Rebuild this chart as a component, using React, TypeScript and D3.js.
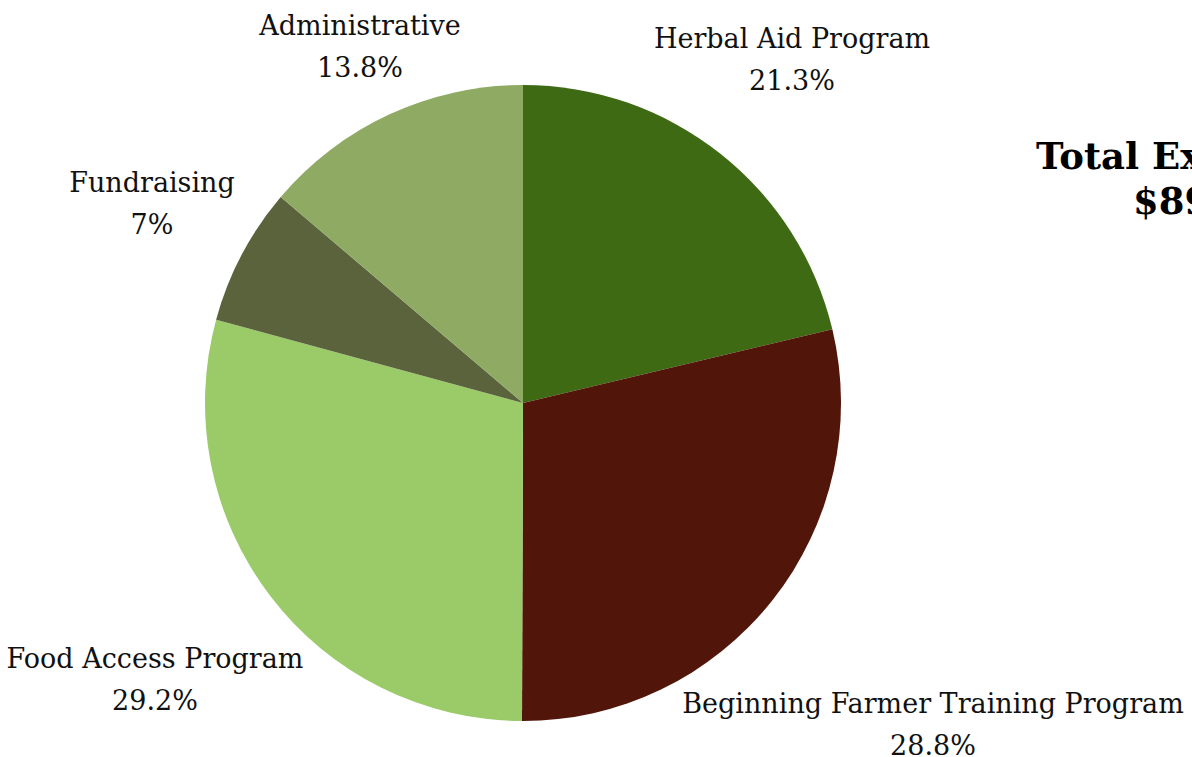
import React from "react";
import * as d3 from "d3";

const categories = [
  "Herbal Aid Program",
  "Beginning Farmer Training Program",
  "Food Access Program",
  "Fundraising",
  "Administrative",
];
const values = [21.3, 28.8, 29.2, 7, 13.8];
const valueLabels = ["21.3%", "28.8%", "29.2%", "7%", "13.8%"];
const colors = ["#3f6a14", "#52150a", "#9acb68", "#5b633d", "#8eaa63"];
const labelPos: [number, number][] = [
  [792, 38],
  [933, 703],
  [155, 658],
  [152, 182],
  [360, 25],
];
const titleLines = ["Total Expenses", "$89,000"];

export default function App() {
  const W = 1192, H = 757;
  const cx = 523, cy = 403, r = 318;
  const pie = d3.pie<number>().sort(null).value((d) => d)(values);
  const arc = d3.arc<d3.PieArcDatum<number>>().innerRadius(0).outerRadius(r);
  const font = "'DejaVu Serif', 'Liberation Serif', serif";
  return (
    <svg width={W} height={H} style={{ position: "absolute", left: 0, top: 0, background: "#fff" }}>
      <g transform={`translate(${cx},${cy})`}>
        {pie.map((p, i) => (
          <path key={i} d={arc(p) || ""} fill={colors[i]} />
        ))}
      </g>
      {categories.map((c, i) => (
        <g key={c} fontFamily={font} fontSize={27} fill="#111" textAnchor="middle">
          <text x={labelPos[i][0]} y={labelPos[i][1]} dominantBaseline="central">{c}</text>
          <text x={labelPos[i][0]} y={labelPos[i][1] + 42} dominantBaseline="central">{valueLabels[i]}</text>
        </g>
      ))}
      <g fontFamily={font} fontSize={37} fontWeight="bold" fill="#000" textAnchor="start">
        <text x={1036} y={156} dominantBaseline="central">{titleLines[0]}</text>
        <text x={1133} y={201} dominantBaseline="central">{titleLines[1]}</text>
      </g>
    </svg>
  );
}
